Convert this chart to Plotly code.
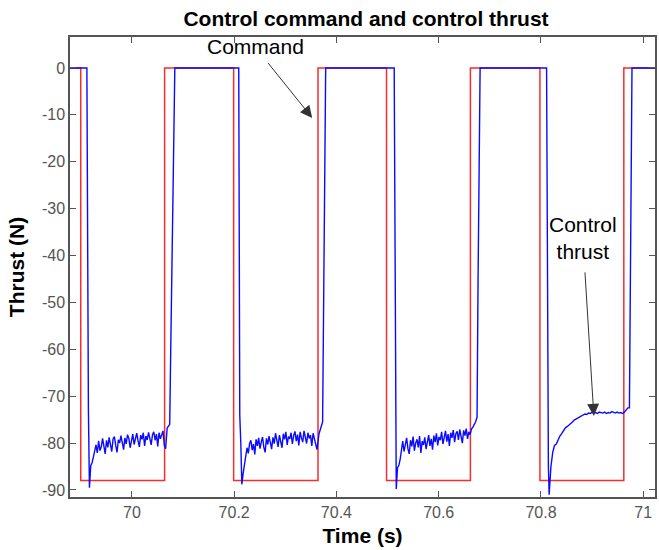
import numpy as np
import plotly.graph_objects as go

# ---------------- data ----------------
# Command (red square wave): change points, drawn with 'hv' steps
cmd_t = [69.879, 69.900, 70.064, 70.199, 70.364, 70.498, 70.662, 70.798, 70.962, 71.023]
cmd_v = [0, -88, 0, -88, 0, -88, 0, -88, 0, 0]

# Control thrust (blue): edges and plateaus
edge0_t = [69.879, 69.912, 69.915]
edge0_v = [0, 0, -73]
noise1_span = (69.917, 70.066)
noise1_v = [-89.5, -84.8, -84.2, -83.0, -81.2, -80.4, -82.1, -79.5, -81.6, -80.8,
            -79.0, -80.3, -82.3, -79.4, -80.9, -78.8, -80.2, -81.8, -79.1, -78.6,
            -80.5, -82.0, -79.3, -80.0, -78.4, -79.6, -81.4, -78.9, -80.2, -78.2,
            -79.0, -81.0, -79.6, -78.1, -80.3, -79.2, -77.9, -79.5, -80.8, -78.3,
            -79.2, -77.8, -80.6, -78.5, -79.3, -77.7, -78.8, -80.4, -78.2, -77.6,
            -79.4, -78.1, -80.7, -77.8, -79.1, -78.0, -77.4, -80.5, -81.2]
edge1_t = [70.069, 70.074, 70.076, 70.078, 70.081, 70.084, 70.209, 70.211, 70.213]
edge1_v = [-76.8, -76.0, -60, -45, -22, 0, 0, -74, -80]
noise2_span = (70.215, 70.362)
noise2_v = [-88.8, -86.5, -84.5, -83.2, -81.0, -82.2, -80.1, -79.4, -81.5, -80.2,
            -82.4, -79.2, -80.6, -78.9, -81.2, -79.8, -78.7, -80.9, -82.0, -79.0,
            -80.3, -78.5, -79.7, -81.3, -78.8, -80.1, -77.9, -79.4, -80.8, -78.3,
            -79.6, -81.0, -78.0, -79.2, -77.6, -80.4, -78.6, -79.1, -77.8, -80.2,
            -78.4, -77.5, -79.6, -78.2, -80.5, -77.6, -78.9, -79.8, -77.4, -78.7,
            -80.1, -77.8, -79.0, -78.3, -80.6, -77.9, -79.2, -80.4, -81.4]
edge2_t = [70.366, 70.370, 70.373, 70.375, 70.377, 70.379, 70.513, 70.515, 70.516]
edge2_v = [-78, -76.5, -75.5, -50, -15, 0, 0, -70, -82]
noise3_span = (70.517, 70.664)
noise3_v = [-89.8, -85.2, -84.8, -83.5, -81.0, -79.6, -81.8, -80.3, -78.9, -81.2,
            -82.3, -79.4, -80.7, -78.6, -81.6, -80.0, -79.2, -80.9, -78.5, -82.1,
            -79.6, -80.4, -78.8, -81.3, -79.5, -78.3, -80.6, -79.1, -81.4, -78.4,
            -79.8, -77.9, -80.5, -78.7, -79.4, -77.6, -80.2, -78.9, -77.4, -79.7,
            -78.1, -80.6, -77.8, -78.9, -77.2, -79.8, -78.0, -77.5, -79.3, -77.1,
            -78.6, -80.0, -77.3, -78.4, -76.9, -79.1, -77.6, -78.2, -77.0]
edge3_t = [70.667, 70.672, 70.675, 70.677, 70.679, 70.681, 70.811, 70.813, 70.8145]
edge3_v = [-76.6, -75.5, -74.5, -45, -10, 0, 0, -60, -85]
noise4_span = (70.816, 70.970)
noise4_v = [-91.0, -85.0, -82.0, -80.5, -80.2, -79.3, -78.5, -78.0, -77.3, -76.8,
            -76.5, -76.2, -75.7, -75.5, -75.1, -74.9, -74.6, -74.5, -74.2, -74.1,
            -73.8, -73.9, -73.6, -73.7, -73.4, -73.6, -73.5, -73.7, -73.4, -73.5,
            -73.6, -73.4, -73.7, -73.5, -73.6, -73.3, -73.5, -73.6, -73.4, -73.6,
            -73.5, -73.7, -73.4, -73.0, -72.5]
edge4_t = [70.973, 70.975, 70.978, 71.023]
edge4_v = [-72.5, -40, 0, 0]

x_tickvals = [70, 70.2, 70.4, 70.6, 70.8, 71]
x_ticktext = ["70", "70.2", "70.4", "70.6", "70.8", "71"]
y_tickvals = [0, -10, -20, -30, -40, -50, -60, -70, -80, -90]
y_ticktext = ["0", "-10", "-20", "-30", "-40", "-50", "-60", "-70", "-80", "-90"]

# ---------------- assemble thrust series ----------------
def samples(span, vals):
    return list(np.linspace(span[0], span[1], len(vals))), list(vals)

thr_t, thr_v = [], []
for t, v in [(edge0_t, edge0_v), samples(noise1_span, noise1_v),
             (edge1_t, edge1_v), samples(noise2_span, noise2_v),
             (edge2_t, edge2_v), samples(noise3_span, noise3_v),
             (edge3_t, edge3_v), samples(noise4_span, noise4_v),
             (edge4_t, edge4_v)]:
    thr_t += list(t)
    thr_v += list(v)

FONT = "Liberation Sans, Arial, sans-serif"

fig = go.Figure()
fig.add_trace(go.Scatter(x=cmd_t, y=cmd_v, mode="lines", line_shape="hv",
                         line=dict(color="rgb(245,45,45)", width=1.5),
                         name="Command", showlegend=False))
fig.add_trace(go.Scatter(x=thr_t, y=thr_v, mode="lines",
                         line=dict(color="rgb(10,10,255)", width=1.4),
                         name="Control thrust", showlegend=False))

axis_common = dict(showline=True, linecolor="#555", linewidth=1.5, mirror="ticks",
                   ticks="inside", ticklen=6, tickwidth=1.2, tickcolor="#555",
                   showgrid=False, zeroline=False,
                   tickfont=dict(family=FONT, size=16, color="#555"))

fig.update_layout(
    width=659, height=550,
    margin=dict(l=70, r=2, t=37, b=53),
    paper_bgcolor="white", plot_bgcolor="white",
    font=dict(family=FONT, color="black"),
    title=dict(text="<b>Control command and control thrust</b>",
               font=dict(family=FONT, size=21, color="black"),
               x=366 / 659, xanchor="center", xref="container",
               y=1 - 19 / 550, yanchor="middle", yref="container"),
    xaxis=dict(range=[69.879, 71.023], tickvals=x_tickvals, ticktext=x_ticktext,
               title=dict(text="<b>Time (s)</b>", standoff=8,
                          font=dict(family=FONT, size=21, color="black")),
               **axis_common),
    yaxis=dict(range=[-91.5, 6.6], tickvals=y_tickvals, ticktext=y_ticktext,
               title=dict(text="<b>Thrust (N)</b>", standoff=12,
                          font=dict(family=FONT, size=21, color="black")),
               **axis_common),
    annotations=[
        dict(x=70.3526, y=-10.66, xref="x", yref="y", text="Command",
             showarrow=True, ax=-57, ay=-71, axref="pixel", ayref="pixel",
             font=dict(family=FONT, size=21, color="black"),
             arrowhead=2, arrowsize=2.4, arrowwidth=1.0, arrowcolor="#333",
             startstandoff=4),
        dict(x=70.9034, y=-74.2, xref="x", yref="y", text="Control<br>thrust",
             showarrow=True, ax=-11, ay=-178, axref="pixel", ayref="pixel",
             font=dict(family=FONT, size=21, color="black"),
             arrowhead=2, arrowsize=2.4, arrowwidth=1.0, arrowcolor="#333",
             startstandoff=8),
    ],
)

fig.write_html("out.html")
